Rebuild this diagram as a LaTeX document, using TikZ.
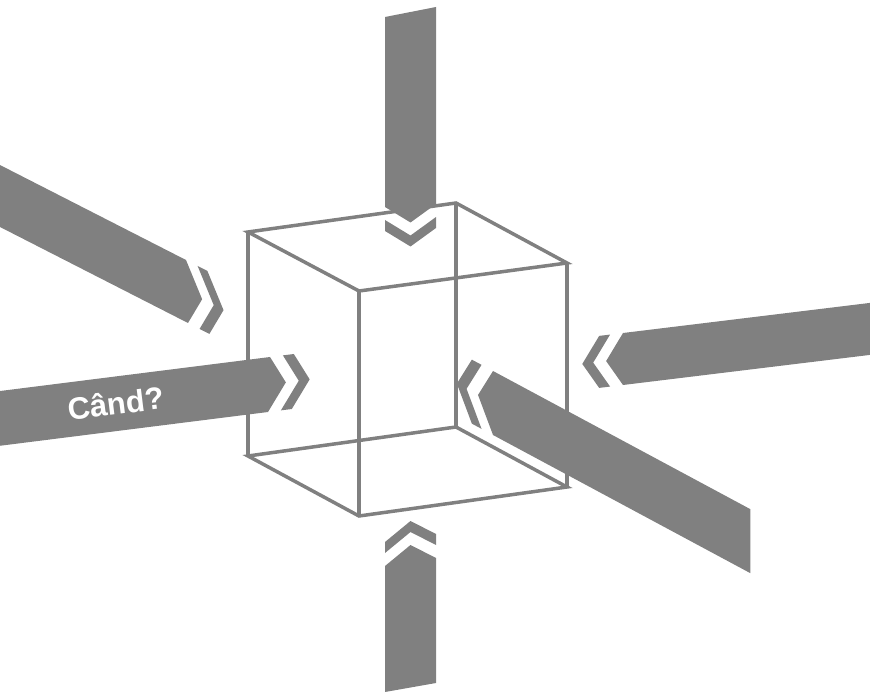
\documentclass[tikz,border=0pt]{standalone}
\usepackage{fontspec}
\setmainfont{Liberation Sans}
\usepackage{tikz}
\usepackage{xcolor}
\definecolor{shapegray}{HTML}{808080}

\begin{document}
\begin{tikzpicture}[x=1pt, y=-1pt,
    cubeedge/.style={draw=shapegray, line width=3.5pt, line join=miter},
    arrowfill/.style={fill=shapegray}]
\useasboundingbox (0,0) rectangle (870,692);
\clip (0,0) rectangle (870,692);
% cube corners
\coordinate (tl) at (248,232);
\coordinate (tf) at (359,291);
\coordinate (tr) at (567,263);
\coordinate (tb) at (456,203);
\coordinate (bl) at (248,456);
\coordinate (bf) at (359,516);
\coordinate (br) at (567,487);
\coordinate (bb) at (456,427);
\draw[cubeedge] (tl) -- (tf) -- (tr) -- (tb) -- cycle;
\draw[cubeedge] (bl) -- (bf) -- (br) -- (bb) -- cycle;
\draw[cubeedge]
    (tl) -- (bl)
    (tf) -- (bf)
    (tr) -- (br)
    (tb) -- (bb);
% arrows: shoulder point / direction / cross vector / back ends
\foreach \px/\py/\ux/\uy/\vx/\vy/\la/\lb in {
    187/291.5/0.891/0.455/2/63/-260/-260,
    269/384.5/0.992/-0.125/-2/55/-300/-300,
    410.5/205.5/0/1/51/-3/-190/-197,
    410.5/562/0/-1/51/-8/-126/-125,
    623/359/-0.993/0.121/0/52/-260/-260,
    493/403/-0.881/-0.473/0/64/-292/-292}
{
    \pgfmathsetmacro{\uyc}{-\uy}
    \pgfmathsetmacro{\vyc}{-\vy}
    \begin{scope}[shift={(\px,\py)}, x={(\ux pt,\uyc pt)}, y={(\vx pt,\vyc pt)}]
        \fill[arrowfill] (\la,-0.5) -- (0,-0.5) -- (17,0) -- (0,0.5) -- (\lb,0.5) -- cycle;
        \fill[arrowfill] (13,-0.5) -- (24,-0.5) -- (41,0) -- (24,0.5) -- (13,0.5) -- (30,0) -- cycle;
    \end{scope}
}
\node[text=white, font=\bfseries\fontsize{31}{36}\selectfont, rotate=7] (cand) at (116,403) {Când?};
\end{tikzpicture}
\end{document}
